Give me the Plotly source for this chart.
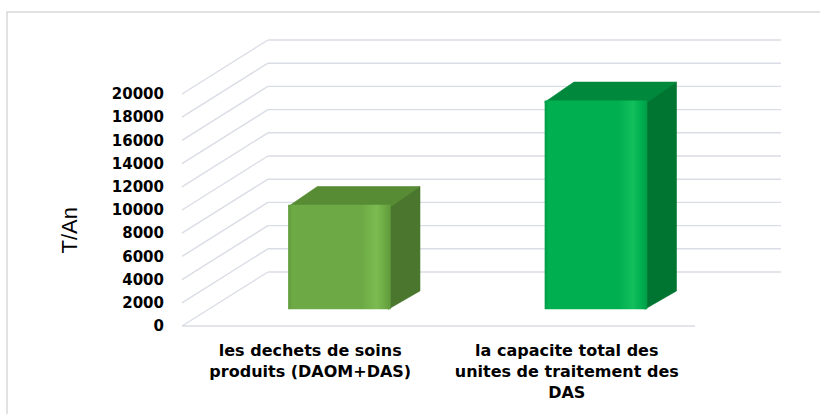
import plotly.graph_objects as go

# ---------------- data ----------------
categories = ["les dechets de soins produits (DAOM+DAS)",
              "la capacite total des unites de traitement des DAS"]
category_labels = ["les dechets de soins<br>produits (DAOM+DAS)",
                   "la capacite total des<br>unites de traitement des<br>DAS"]
values = [9000, 18000]
y_ticks = [0, 2000, 4000, 6000, 8000, 10000, 12000, 14000, 16000, 18000, 20000]
y_title = "T/An"

# ---------------- styling / geometry ----------------
W, H = 820, 414
front_colors = ["#6DAA45", "#00AF50"]
light_colors = ["#7BBB50", "#12BF5C"]
edge_colors = ["#5E9A3A", "#009E47"]
top_colors = ["#578C35", "#00883C"]
side_colors = ["#4A762D", "#007431"]
grid_color = "#DADDE5"

WALL_DX = 0.335      # depth offset in x (category units)
WALL_DY = 4655       # depth offset in y (value units)
D0, D1 = 0.31, 0.65  # bar front/back depth fraction
BAR_W = 0.40

px0, pxu = 182, 256.5
py0, pyu = 326, 0.0116
x_range = [(0 - px0) / pxu - 0.5, (W - px0) / pxu - 0.5]
y_range = [(py0 - H) / pyu, (py0 - 0) / pyu]

fig = go.Figure()

n = len(categories)
x_left, x_right = -0.5, n - 0.5

shapes = []
for v in y_ticks:
    shapes.append(dict(type="line", xref="x", yref="y", layer="below",
                       x0=x_left + WALL_DX, y0=v + WALL_DY,
                       x1=x_right + WALL_DX, y1=v + WALL_DY,
                       line=dict(color=grid_color, width=1.4)))
    shapes.append(dict(type="line", xref="x", yref="y", layer="below",
                       x0=x_left, y0=v, x1=x_left + WALL_DX, y1=v + WALL_DY,
                       line=dict(color=grid_color, width=1.4)))
shapes.append(dict(type="line", xref="x", yref="y", layer="below",
                   x0=x_left, y0=0, x1=x_right, y1=0,
                   line=dict(color=grid_color, width=1.4)))
shapes.append(dict(type="path", xref="paper", yref="paper", layer="below",
                   path=f"M {7/W},{0} L {7/W},{1-12/H} L 1,{1-12/H}",
                   line=dict(color="#D9D9D9", width=1.5)))

for i, (cat, v) in enumerate(zip(categories, values)):
    xc = i + D0 * WALL_DX + 0.01
    yb = D0 * WALL_DY
    ddx = (D1 - D0) * WALL_DX
    ddy = (D1 - D0) * WALL_DY
    xl, xr = xc - BAR_W / 2, xc + BAR_W / 2
    top = yb + v
    # side face
    fig.add_trace(go.Scatter(
        x=[xr - 0.01, xr + ddx, xr + ddx, xr - 0.01, xr - 0.01],
        y=[yb, yb + ddy, top + ddy, top, yb],
        fill="toself", fillcolor=side_colors[i], mode="lines",
        line=dict(width=0.6, color=side_colors[i]), showlegend=False, hoverinfo="skip"))
    # top face
    fig.add_trace(go.Scatter(
        x=[xl, xr, xr + ddx, xl + ddx, xl],
        y=[top - 150, top - 150, top + ddy, top + ddy, top - 150],
        fill="toself", fillcolor=top_colors[i], mode="lines",
        line=dict(width=0.6, color=top_colors[i]), showlegend=False, hoverinfo="skip"))
    # front face
    fig.add_trace(go.Scatter(
        x=[xl, xr, xr, xl, xl],
        y=[yb, yb, top, top, yb],
        fill="toself", mode="lines",
        fillgradient=dict(type="horizontal",
                          colorscale=[[0, edge_colors[i]], [0.04, front_colors[i]],
                                      [0.72, front_colors[i]], [0.86, light_colors[i]],
                                      [0.94, front_colors[i]], [1, edge_colors[i]]]),
        line=dict(width=0), showlegend=False, hoverinfo="skip", name=cat))

fig.update_layout(
    width=W, height=H,
    margin=dict(l=0, r=0, t=0, b=0, pad=0),
    paper_bgcolor="white", plot_bgcolor="rgba(0,0,0,0)",
    shapes=shapes,
    xaxis=dict(range=x_range, showgrid=False, zeroline=False, showline=False,
               automargin=False,
               tickmode="array", tickvals=list(range(n)), ticktext=category_labels,
               anchor="free", position=(H - 339) / H, ticks="",
               tickfont=dict(family="DejaVu Sans", size=16, color="#000000"),
               fixedrange=True),
    yaxis=dict(range=y_range, showgrid=False, zeroline=False, showline=False,
               automargin=False,
               tickmode="array", tickvals=y_ticks, ticktext=[str(t) for t in y_ticks],
               anchor="free", position=px0 / W, ticks="", ticklabelstandoff=18,
               tickfont=dict(family="DejaVu Sans", size=15, color="#000000"),
               fixedrange=True),
    annotations=[dict(text=y_title, xref="paper", yref="paper",
                      x=54 / W, y=(H - 231) / H, showarrow=False, textangle=-90,
                      font=dict(family="Liberation Sans", size=22, color="#000000"))],
)
fig.update_xaxes(tickfont_weight="bold")
fig.update_yaxes(tickfont_weight="bold")

fig.write_html("out.html", config={"displayModeBar": False},
               post_script="document.body.style.margin='0';document.body.style.padding='0';")
